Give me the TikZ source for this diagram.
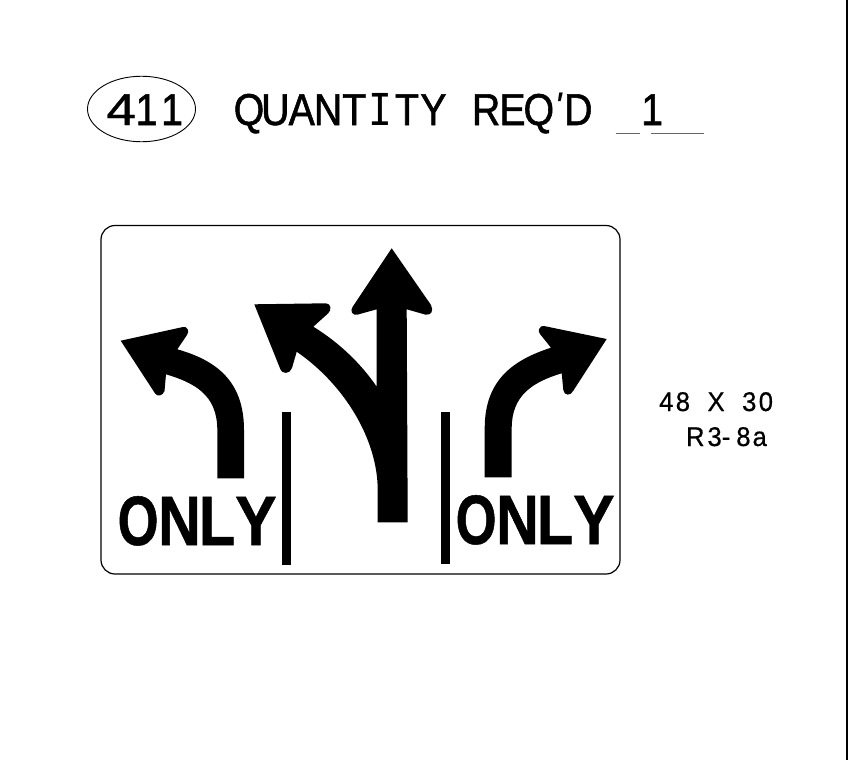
\documentclass[tikz,border=0pt]{standalone}
\usepackage{fontspec}
\usetikzlibrary{shapes.geometric}
\newfontfamily\labelsans[FakeStretch=0.88,FakeBold=1.2]{Liberation Sans}
\newfontfamily\widesans[FakeStretch=1.2,FakeBold=0.8]{Liberation Sans}
\newfontfamily\slantsans{Liberation Sans Italic}
\newfontfamily\serifmono[FakeStretch=0.90]{DejaVu Sans Mono}
\newfontfamily\smallsans[FakeStretch=0.95,FakeBold=0.6]{Liberation Sans}
\newfontfamily\signfont[FakeStretch=0.85,FakeBold=0.7]{Liberation Sans Bold}
\newfontfamily\signO[FakeStretch=0.75,FakeBold=0.7]{Liberation Sans Bold}
\newfontfamily\signY[FakeStretch=0.89,FakeBold=0.7]{Liberation Sans Bold}
\newcommand\cellbox[2]{\makebox[#1pt][c]{#2}}
\newcommand\headcell[1]{\cellbox{26.35}{#1}}
\newcommand\dimcell[1]{\cellbox{16.6}{#1}}
\newcommand\onlyword{{\signO O}\kern-0.5pt N\kern-2.2pt L{\signY Y}}
\tikzset{
  txt/.style={inner sep=0pt,outer sep=0pt,anchor=base west,text=black},
  headtxt/.style={txt,font=\labelsans\fontsize{44.6}{44.6}\selectfont},
  dims/.style={txt,font=\smallsans\fontsize{27}{27}\selectfont},
  onlytxt/.style={txt,font=\signfont\fontsize{70}{70}\selectfont},
  solid ink/.style={fill=black,draw=none},
  ink/.style={draw=black,line width=0.9pt,fill=none},
  blank rule/.style={draw=black!60,line width=1pt}
}
\begin{document}
\begin{tikzpicture}[x=1pt,y=-1pt]
\useasboundingbox (0,0) rectangle (850,760);
\fill[white] (0,0) rectangle (850,760);
\draw[black,line width=2.2pt] (846.6,0) -- (846.6,760);
% header
\node[ink,ellipse,minimum width=108pt,minimum height=65.5pt,inner sep=0pt] (ring) at (141.5,109) {};
\node[headtxt] (num) at (108.5,125) {\cellbox{25.4}{\widesans 4}\cellbox{25.4}{1}\cellbox{25.4}{1}};
\node[headtxt] (qty) at (235.8,125) {\headcell{Q}\headcell{U}\headcell{A}\headcell{N}\headcell{T}\headcell{\serifmono\fontsize{44}{44}\selectfont I}\headcell{T}\headcell{Y}\headcell{ }\headcell{R}\headcell{E}\headcell{Q}\cellbox{13.2}{\raisebox{5pt}{\slantsans\fontsize{40}{40}\selectfont '}}\headcell{D}};
\node[headtxt] (one) at (639,125) {\headcell{1}};
\draw[blank rule] (615.7,133.5) -- (640,133.5);
\draw[blank rule] (651,133.5) -- (703.7,133.5);
% sign
\draw[ink,line width=1.2pt,rounded corners=14pt] (101,225.5) rectangle (620,574);
% left arrow
\path[solid ink] (120.7,340.7) -- (183,327) .. controls (187,326) and (190,331) .. (187,335) -- (177.3,349.3)
 .. controls (215,360) and (244,380) .. (244,430) -- (244,478.3) -- (217.3,478.3) -- (217.3,430)
 .. controls (217.3,395) and (195,383) .. (166,374.3) -- (164.5,391) .. controls (163,396) and (157,397) .. (155,393.3) -- cycle;
% right arrow
\path[solid ink] (606.7,339) -- (544,326) .. controls (540,325) and (537,331) .. (540,334) -- (551,347.7)
 .. controls (513,360) and (484.7,380) .. (484.7,428.3) -- (484.7,477.3) -- (511.7,477.3) -- (511.7,428.3)
 .. controls (511.7,395) and (533,382) .. (561.7,373.3) -- (563.3,390) .. controls (564,396) and (571,396) .. (573.3,390.7) -- cycle;
% middle arrow
\path[solid ink] (391.7,248.3) -- (431,305) .. controls (434,311) and (431,316) .. (425,314.5) -- (406.7,309.3)
 -- (407.7,522.3) -- (377.7,522.3) -- (377.7,490) .. controls (377.7,440) and (345,385) .. (296.7,351.7)
 -- (292,368) .. controls (290,374) and (282,375) .. (280,368.3) -- (254.3,304.3) -- (326,303.3)
 .. controls (331,303.5) and (332,310) .. (328,313.5) -- (313.3,326.7) .. controls (340,343) and (362,365) .. (376.7,386.7)
 -- (376.7,309.3) -- (358,314.5) .. controls (352,316) and (350,311) .. (352.5,307) -- cycle;
% lane bars
\path[solid ink] (281.7,412) rectangle (291,565);
\path[solid ink] (440.7,411.7) rectangle (449.7,564.3);
% words
\node[onlytxt] (onlyL) at (117.7,545) {\onlyword};
\node[onlytxt] (onlyR) at (455.7,544) {\onlyword};
\node[dims] (size) at (658,411) {\dimcell{4}\dimcell{8}\dimcell{ }\dimcell{X}\dimcell{ }\dimcell{3}\dimcell{0}};
\node[dims] (code) at (686,446) {R\kern3pt 3-\kern6pt 8\kern2pt a};
\end{tikzpicture}
\end{document}
